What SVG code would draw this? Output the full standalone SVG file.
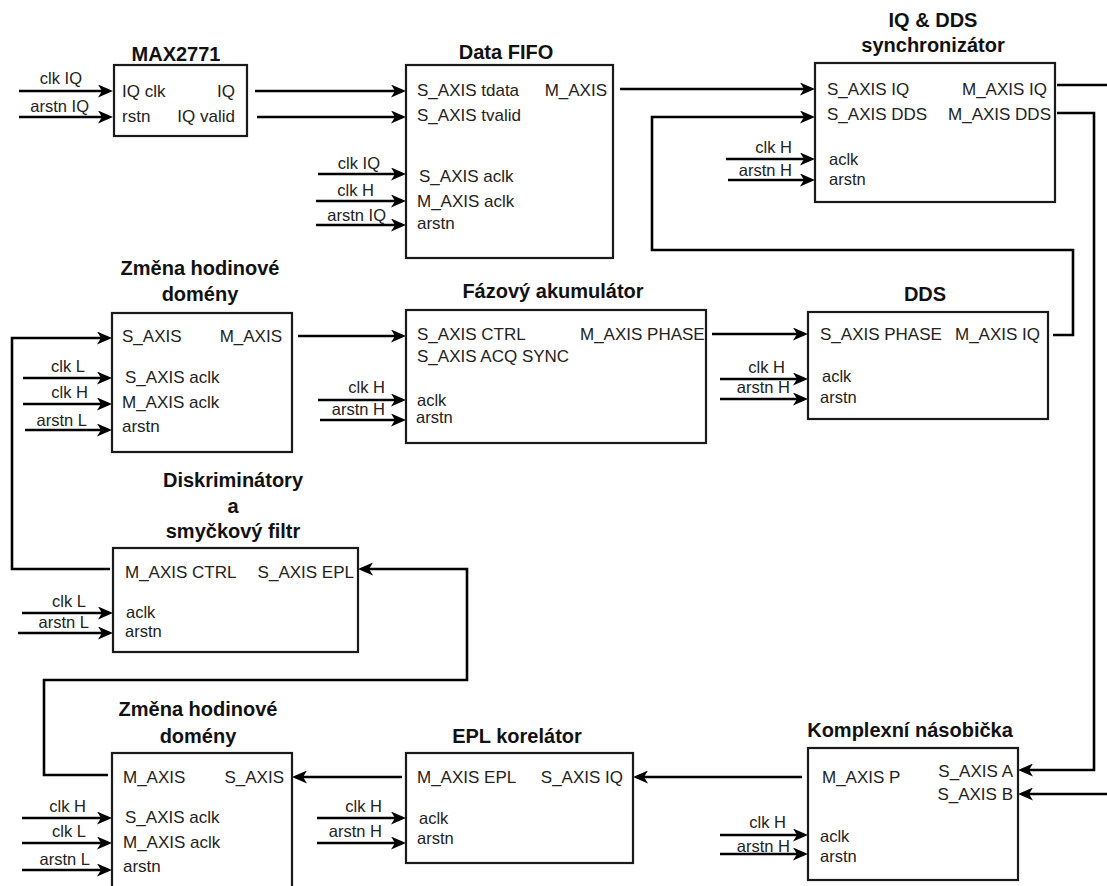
<svg xmlns="http://www.w3.org/2000/svg" width="1107" height="886" viewBox="0 0 1107 886">
<style>
.box{fill:#fff;stroke:#1a1a1a;stroke-width:2.2}
.t{font-family:"Liberation Sans",Arial,sans-serif;font-size:20px;font-weight:bold;fill:#111;text-anchor:middle}
.p{font-family:"Liberation Sans",Arial,sans-serif;font-size:17px;fill:#222}
.s{font-family:"Liberation Sans",Arial,sans-serif;font-size:16.5px;fill:#222}
.e{text-anchor:end}
.w{fill:none;stroke:#000;stroke-width:2.6}
.a{marker-end:url(#arr)}
</style>
<defs>
<marker id="arr" markerUnits="userSpaceOnUse" viewBox="0 0 15 13" refX="11" refY="6.5" markerWidth="15" markerHeight="13" orient="auto">
<path d="M0,0 L15,6.5 L0,13 L4,6.5 Z" fill="#000"/>
</marker>
</defs>
<rect width="1107" height="886" fill="#fff"/>
<g id="connectors">
<line class="w a" x1="19" y1="91" x2="109" y2="91"/>
<line class="w a" x1="19" y1="117" x2="109" y2="117"/>
<line class="w a" x1="255" y1="91" x2="402" y2="91"/>
<line class="w a" x1="257" y1="117" x2="402" y2="117"/>
<line class="w a" x1="318" y1="174" x2="402" y2="174"/>
<line class="w a" x1="316" y1="201" x2="402" y2="201"/>
<line class="w a" x1="316" y1="225" x2="402" y2="225"/>
<line class="w a" x1="620" y1="89" x2="811" y2="89"/>
<polyline class="w a" points="1053,335 1073,335 1073,250 652,250 652,117 811,117"/>
<line class="w a" x1="726" y1="159" x2="811" y2="159"/>
<line class="w a" x1="728" y1="180" x2="811" y2="180"/>
<line class="w" x1="1057" y1="85" x2="1107" y2="85"/>
<polyline class="w a" points="1057,113 1094,113 1094,770 1022,770"/>
<line class="w a" x1="1107" y1="794" x2="1022" y2="794"/>
<polyline class="w a" points="110,569 12,569 12,338 108,338"/>
<line class="w a" x1="23" y1="378" x2="108" y2="378"/>
<line class="w a" x1="23" y1="404" x2="108" y2="404"/>
<line class="w a" x1="25" y1="430" x2="108" y2="430"/>
<line class="w a" x1="298" y1="336" x2="402" y2="336"/>
<line class="w a" x1="318" y1="400" x2="402" y2="400"/>
<line class="w a" x1="320" y1="420" x2="402" y2="420"/>
<line class="w a" x1="712" y1="334" x2="804" y2="334"/>
<line class="w a" x1="720" y1="379" x2="804" y2="379"/>
<line class="w a" x1="720" y1="399" x2="804" y2="399"/>
<line class="w a" x1="22" y1="613" x2="109" y2="613"/>
<line class="w a" x1="18" y1="633" x2="109" y2="633"/>
<polyline class="w a" points="108,775 44,775 44,680 467,680 467,569 362,569"/>
<line class="w a" x1="402" y1="777" x2="296" y2="777"/>
<line class="w a" x1="22" y1="818" x2="108" y2="818"/>
<line class="w a" x1="22" y1="843" x2="108" y2="843"/>
<line class="w a" x1="22" y1="870" x2="108" y2="870"/>
<line class="w a" x1="802" y1="777" x2="637" y2="777"/>
<line class="w a" x1="317" y1="818" x2="402" y2="818"/>
<line class="w a" x1="317" y1="843" x2="402" y2="843"/>
<line class="w a" x1="720" y1="835" x2="804" y2="835"/>
<line class="w a" x1="720" y1="854" x2="804" y2="854"/>
</g>
<g id="wire-labels">
<text class="s e" x="82" y="84">clk IQ</text>
<text class="s e" x="89" y="112">arstn IQ</text>
<text class="s e" x="380" y="169">clk IQ</text>
<text class="s e" x="374" y="196">clk H</text>
<text class="s e" x="386" y="221">arstn IQ</text>
<text class="s e" x="792" y="153">clk H</text>
<text class="s e" x="792" y="176">arstn H</text>
<text class="s e" x="85" y="372">clk L</text>
<text class="s e" x="88" y="398">clk H</text>
<text class="s e" x="87" y="426">arstn L</text>
<text class="s e" x="385" y="393">clk H</text>
<text class="s e" x="385" y="415">arstn H</text>
<text class="s e" x="785" y="373">clk H</text>
<text class="s e" x="790" y="393">arstn H</text>
<text class="s e" x="86" y="607">clk L</text>
<text class="s e" x="89" y="628">arstn L</text>
<text class="s e" x="86" y="812">clk H</text>
<text class="s e" x="86" y="837">clk L</text>
<text class="s e" x="90" y="865">arstn L</text>
<text class="s e" x="382" y="812">clk H</text>
<text class="s e" x="382" y="837">arstn H</text>
<text class="s e" x="786" y="828">clk H</text>
<text class="s e" x="790" y="852">arstn H</text>
</g>
<g id="max2771">
<rect class="box" x="114" y="65" width="133" height="71"/>
<text class="t" x="176" y="61">MAX2771</text>
<text class="p" x="122" y="97">IQ clk</text>
<text class="p" x="122" y="122">rstn</text>
<text class="p e" x="235" y="97">IQ</text>
<text class="p e" x="235" y="122">IQ valid</text>
</g>
<g id="data-fifo">
<rect class="box" x="406" y="65" width="207" height="193"/>
<text class="t" x="506" y="59">Data FIFO</text>
<text class="p" x="417" y="96">S_AXIS tdata</text>
<text class="p" x="417" y="121">S_AXIS tvalid</text>
<text class="p e" x="607" y="96">M_AXIS</text>
<text class="p" x="419" y="182">S_AXIS aclk</text>
<text class="p" x="417" y="207">M_AXIS aclk</text>
<text class="p" x="417" y="229">arstn</text>
</g>
<g id="sync">
<rect class="box" x="815" y="63" width="240" height="139"/>
<text class="t" x="933" y="27">IQ &amp; DDS</text>
<text class="t" x="933" y="52">synchronizátor</text>
<text class="p" x="827" y="95">S_AXIS IQ</text>
<text class="p" x="827" y="120">S_AXIS DDS</text>
<text class="p e" x="1047" y="95">M_AXIS IQ</text>
<text class="p e" x="1051" y="120">M_AXIS DDS</text>
<text class="s" x="829" y="165">aclk</text>
<text class="s" x="829" y="185">arstn</text>
</g>
<g id="cdc-top">
<rect class="box" x="112" y="313" width="180" height="139"/>
<text class="t" x="200" y="275">Změna hodinové</text>
<text class="t" x="200" y="301">domény</text>
<text class="p" x="122" y="342">S_AXIS</text>
<text class="p e" x="282" y="342">M_AXIS</text>
<text class="p" x="125" y="383">S_AXIS aclk</text>
<text class="p" x="122" y="408">M_AXIS aclk</text>
<text class="p" x="122" y="432">arstn</text>
</g>
<g id="phase-acc">
<rect class="box" x="406" y="310" width="300" height="133"/>
<text class="t" x="553" y="298">Fázový akumulátor</text>
<text class="p" x="417" y="340">S_AXIS CTRL</text>
<text class="p" x="417" y="362">S_AXIS ACQ SYNC</text>
<text class="p" x="580" y="340">M_AXIS PHASE</text>
<text class="s" x="417" y="406">aclk</text>
<text class="s" x="416" y="423">arstn</text>
</g>
<g id="dds">
<rect class="box" x="808" y="312" width="240" height="107"/>
<text class="t" x="925" y="301">DDS</text>
<text class="p" x="820" y="340">S_AXIS PHASE</text>
<text class="p e" x="1040" y="340">M_AXIS IQ</text>
<text class="s" x="822" y="382">aclk</text>
<text class="s" x="820" y="403">arstn</text>
</g>
<g id="discriminators">
<rect class="box" x="113" y="548" width="245" height="104"/>
<text class="t" x="233" y="487">Diskriminátory</text>
<text class="t" x="233" y="513">a</text>
<text class="t" x="233" y="538">smyčkový filtr</text>
<text class="p" x="125" y="578">M_AXIS CTRL</text>
<text class="p e" x="354" y="578">S_AXIS EPL</text>
<text class="s" x="126" y="618">aclk</text>
<text class="s" x="125" y="637">arstn</text>
</g>
<g id="cdc-bottom">
<rect class="box" x="112" y="753" width="180" height="150"/>
<text class="t" x="198" y="716">Změna hodinové</text>
<text class="t" x="198" y="743">domény</text>
<text class="p" x="123" y="783">M_AXIS</text>
<text class="p e" x="284" y="783">S_AXIS</text>
<text class="p" x="125" y="823">S_AXIS aclk</text>
<text class="p" x="123" y="848">M_AXIS aclk</text>
<text class="p" x="123" y="872">arstn</text>
</g>
<g id="epl">
<rect class="box" x="406" y="753" width="227" height="110"/>
<text class="t" x="517" y="743">EPL korelátor</text>
<text class="p" x="417" y="783">M_AXIS EPL</text>
<text class="p e" x="623" y="783">S_AXIS IQ</text>
<text class="s" x="419" y="824">aclk</text>
<text class="s" x="417" y="844">arstn</text>
</g>
<g id="complex-mult">
<rect class="box" x="808" y="748" width="210" height="132"/>
<text class="t" x="910" y="737">Komplexní násobička</text>
<text class="p" x="822" y="783">M_AXIS P</text>
<text class="p e" x="1013" y="777">S_AXIS A</text>
<text class="p e" x="1013" y="800">S_AXIS B</text>
<text class="s" x="820" y="842">aclk</text>
<text class="s" x="820" y="862">arstn</text>
</g>
</svg>
